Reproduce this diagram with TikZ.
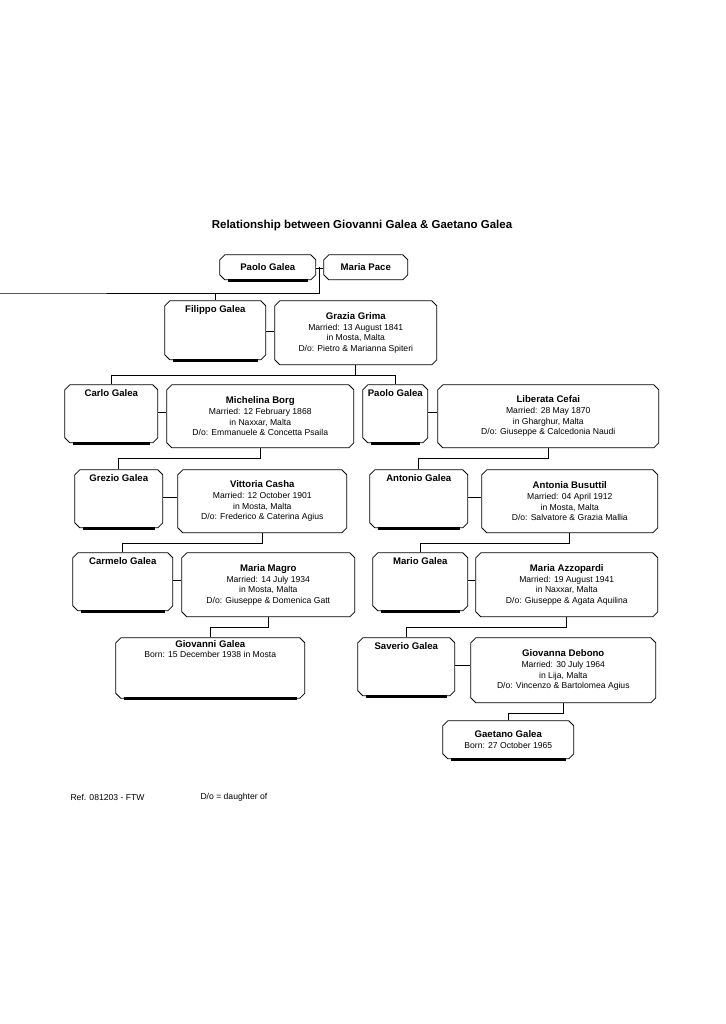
\documentclass[tikz,border=0pt]{standalone}
\usepackage{fontspec}
\setmainfont{Liberation Sans}
\usetikzlibrary{shapes.misc,positioning,calc}
\tikzset{
  x=1pt, y=-1pt,
  person/.style={chamfered rectangle, chamfered rectangle xsep=2.5pt, chamfered rectangle ysep=2.5pt,
    draw, line width=0.8pt, anchor=north west, align=center, inner sep=0pt,
    font=\fontsize{8.6}{10.6}\selectfont},
  marriage/.style={double, double distance=2pt, line width=0.6pt},
  descent/.style={line width=0.8pt},
}
\newcommand{\nm}[1]{{\bfseries\fontsize{9.6}{11}\selectfont #1}}
\newcommand{\shadowbar}[1]{\draw[line width=3pt] ([xshift=6pt,yshift=-2.5pt]#1.south west) -- ([xshift=-6pt,yshift=-2.5pt]#1.south east);}
\begin{document}
\begin{tikzpicture}
\useasboundingbox (0,0) rectangle (725,1024);
\node[font=\bfseries\fontsize{11.5}{13}\selectfont] (title) at (362,226) {Relationship between Giovanni Galea \& Gaetano Galea};

% row 1
\node[person, minimum width=96, minimum height=25] (paolo) at (222,257) {\nm{Paolo Galea}};
\node[person, minimum width=84, minimum height=25] (maria) at (326,257) {\nm{Maria Pace}};
\shadowbar{paolo}
\draw[marriage] (paolo.east) -- (maria.west);

% row 2
\node[person, minimum width=101, minimum height=59, text depth=43pt] (filippo) at (167,303) {\nm{Filippo Galea}};
\node[person, minimum width=162, minimum height=64] (grazia) at (277,303) {\nm{Grazia Grima}\\Married: 13 August 1841\\in Mosta, Malta\\D/o: Pietro \& Marianna Spiteri};
\shadowbar{filippo}
\draw[marriage] (filippo.east) -- (filippo.east -| grazia.west);

% row 3
\node[person, minimum width=93, minimum height=58, text depth=42pt] (carlo) at (67,387) {\nm{Carlo Galea}};
\node[person, minimum width=187, minimum height=63] (michelina) at (169,387) {\nm{Michelina Borg}\\Married: 12 February 1868\\in Naxxar, Malta\\D/o: Emmanuele \& Concetta Psaila};
\node[person, minimum width=65, minimum height=58, text depth=42pt] (paolob) at (365,387) {\nm{Paolo Galea}};
\node[person, minimum width=221, minimum height=63] (liberata) at (440,387) {\nm{Liberata Cefai}\\Married: 28 May 1870\\in Gharghur, Malta\\D/o: Giuseppe \& Calcedonia Naudi};
\shadowbar{carlo}
\shadowbar{paolob}
\draw[marriage] (carlo.east) -- (carlo.east -| michelina.west);
\draw[marriage] (paolob.east) -- (paolob.east -| liberata.west);

% row 4
\node[person, minimum width=88, minimum height=58, text depth=42pt] (grezio) at (77,472) {\nm{Grezio Galea}};
\node[person, minimum width=169, minimum height=63] (vittoria) at (180,472) {\nm{Vittoria Casha}\\Married: 12 October 1901\\in Mosta, Malta\\D/o: Frederico \& Caterina Agius};
\node[person, minimum width=98, minimum height=58, text depth=42pt] (antonio) at (372,472) {\nm{Antonio Galea}};
\node[person, minimum width=176, minimum height=63] (antonia) at (484,472) {\nm{Antonia Busuttil}\\Married: 04 April 1912\\in Mosta, Malta\\D/o: Salvatore \& Grazia Mallia};
\shadowbar{grezio}
\shadowbar{antonio}
\draw[marriage] (grezio.east) -- (grezio.east -| vittoria.west);
\draw[marriage] (antonio.east) -- (antonio.east -| antonia.west);

% row 5
\node[person, minimum width=100, minimum height=58, text depth=42pt] (carmelo) at (75,555) {\nm{Carmelo Galea}};
\node[person, minimum width=173, minimum height=64] (magro) at (184,555) {\nm{Maria Magro}\\Married: 14 July 1934\\in Mosta, Malta\\D/o: Giuseppe \& Domenica Gatt};
\node[person, minimum width=95, minimum height=58, text depth=42pt] (mario) at (375,555) {\nm{Mario Galea}};
\node[person, minimum width=182, minimum height=64] (azzopardi) at (478,555) {\nm{Maria Azzopardi}\\Married: 19 August 1941\\in Naxxar, Malta\\D/o: Giuseppe \& Agata Aquilina};
\shadowbar{carmelo}
\shadowbar{mario}
\draw[marriage] (carmelo.east) -- (carmelo.east -| magro.west);
\draw[marriage] (mario.east) -- (mario.east -| azzopardi.west);

% row 6
\node[person, minimum width=189, minimum height=55, text depth=38pt] (giovanni) at (118,640) {\nm{Giovanni Galea}\\Born: 15 December 1938 in Mosta};
\node[person, minimum width=97, minimum height=58, text depth=42pt] (saverio) at (360,640) {\nm{Saverio Galea}};
\node[person, minimum width=185, minimum height=65] (giovanna) at (473,640) {\nm{Giovanna Debono}\\Married: 30 July 1964\\in Lija, Malta\\D/o: Vincenzo \& Bartolomea Agius};
\shadowbar{giovanni}
\shadowbar{saverio}
\draw[marriage] (saverio.east) -- (saverio.east -| giovanna.west);

% row 7
\node[person, minimum width=131, minimum height=38] (gaetano) at (445,723) {\nm{Gaetano Galea}\\Born: 27 October 1965};
\shadowbar{gaetano}

% descent lines
\draw[descent] ($(paolo.east)!0.5!(maria.west)$) |- (0,293) -| (filippo.north);
\draw[descent] (grazia.south) -- ++(0,10) coordinate (j1);
\draw[descent] (j1) -| (carlo.north);
\draw[descent] (j1) -| (paolob.north);
\draw[descent] (michelina.south) -- ++(0,10) -| (grezio.north);
\draw[descent] (liberata.south) -- ++(0,10) -| (antonio.north);
\draw[descent] (vittoria.south) -- ++(0,10) -| (carmelo.north);
\draw[descent] (antonia.south) -- ++(0,10) -| (mario.north);
\draw[descent] (magro.south) -- ++(0,10) -| (giovanni.north);
\draw[descent] (azzopardi.south) -- ++(0,10) -| (saverio.north);
\draw[descent] (giovanna.south) -- ++(0,10) -| (gaetano.north);

% footer
\node[anchor=west, font=\fontsize{8.6}{10}\selectfont] (ref) at (67,797) {Ref. 081203 - FTW};
\node[anchor=west, font=\fontsize{8.6}{10}\selectfont] (key) at (197,797) {D/o = daughter of};
\end{tikzpicture}
\end{document}
